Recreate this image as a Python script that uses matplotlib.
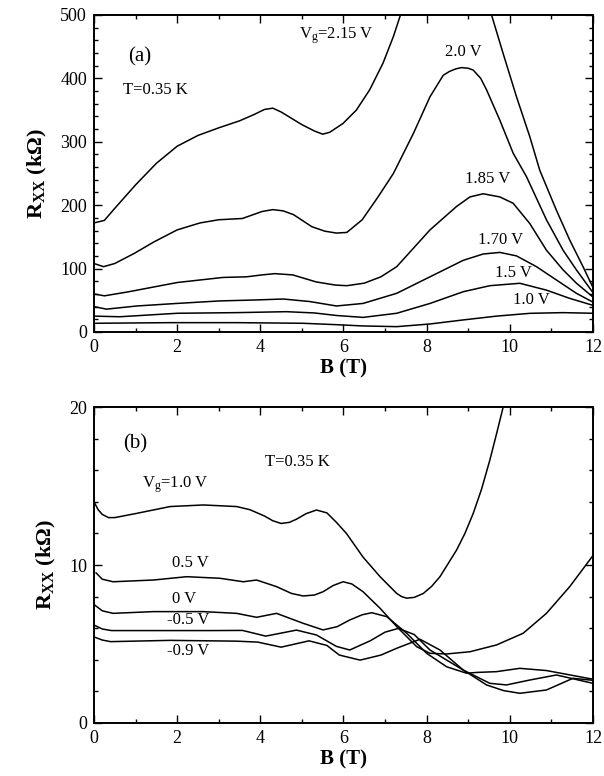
import numpy as np
import matplotlib
matplotlib.use("Agg")
import matplotlib.pyplot as plt
from matplotlib.ticker import MultipleLocator

# Times-like look
plt.rcParams['font.family'] = ['Liberation Serif', 'DejaVu Serif']
plt.rcParams['mathtext.fontset'] = 'custom'
plt.rcParams['mathtext.rm'] = 'Liberation Serif'
plt.rcParams['mathtext.it'] = 'Liberation Serif:italic'
plt.rcParams['mathtext.bf'] = 'Liberation Serif:bold'
plt.rcParams['lines.solid_joinstyle'] = 'round'

nan = np.nan

# ---- panel (a): R_xx (kOhm) vs B (T) ----
b_215 = [0.0, 0.25, 0.5, 1.0, 1.5, 2.0, 2.5, 3.0, 3.5, 3.85, 4.1, 4.3, 4.5, 4.75, 5.0,
         5.3, 5.5, 5.67, 5.99, 6.31, 6.63, 6.95, 7.2, 7.37, nan,
         9.56, 9.84, 10.16, 10.48, 10.72, 11.12, 11.44, 11.76, 12.0]
r_215 = [172, 176, 195, 232, 266, 293, 310, 322, 333, 343, 351, 353, 347, 337, 327,
         317, 312, 315, 329, 350, 382, 424, 466, 500, nan,
         500, 439, 371, 308, 255, 192, 145, 103, 70]

b_200 = [0.0, 0.23, 0.5, 0.97, 1.44, 2.0, 2.55, 3.0, 3.57, 4.04, 4.3, 4.55, 4.8, 5.24, 5.55,
         5.83, 6.08, 6.45, 6.82, 7.2, 7.68, 8.08, 8.4, 8.55, 8.7, 8.84, 9.0, 9.12, 9.3,
         9.44, 9.76, 10.08, 10.4, 10.88, 11.28, 11.6, 12.0]
r_200 = [108, 103, 108, 124, 142, 161, 172, 177, 179, 190, 193, 191, 185, 166, 159,
         156, 157, 177, 212, 250, 313, 371, 405, 411, 415, 417, 416, 413, 400,
         382, 334, 282, 245, 177, 129, 98, 62]

b_185 = [0.0, 0.25, 0.8, 1.44, 2.0, 2.55, 3.1, 3.67, 4.04, 4.35, 4.78, 5.34, 5.8, 6.08, 6.5,
         6.9, 7.28, 8.08, 8.72, 9.04, 9.36, 9.76, 10.08, 10.48, 10.88, 11.28, 11.6, 12.0]
r_185 = [60, 57, 63, 71, 78, 82, 86, 87, 90, 92, 90, 79, 74, 73, 77,
         87, 103, 161, 198, 213, 218, 213, 203, 171, 129, 98, 77, 55]

b_170 = [0.0, 0.3, 1.03, 1.99, 3.03, 3.9, 4.55, 5.19, 5.83, 6.47, 7.28, 8.08, 8.88, 9.36,
         9.76, 10.16, 10.64, 11.12, 11.6, 12.0]
r_170 = [40, 36, 41, 45, 49, 50.5, 52, 48, 41, 45, 61, 87, 113, 123,
         125.5, 120, 103, 82, 61, 47]

b_150 = [0.0, 0.62, 2.0, 3.43, 4.63, 5.3, 5.83, 6.47, 7.28, 8.08, 8.88, 9.52, 10.24, 10.88,
         11.44, 12.0]
r_150 = [25, 24, 29.5, 30.5, 32, 30, 26, 23, 29.5, 45, 63.5, 73, 76.8, 66, 53, 42]

b_100 = [0.0, 1.83, 3.43, 5.03, 5.83, 6.47, 7.28, 8.08, 8.88, 9.68, 10.48, 11.28, 12.0]
r_100 = [13.7, 14.7, 14.7, 13.7, 11.5, 9.5, 8.4, 12.6, 19, 25, 29.4, 30.5, 29.5]

curves_a = [(b_215, r_215), (b_200, r_200), (b_185, r_185),
            (b_170, r_170), (b_150, r_150), (b_100, r_100)]

# ---- panel (b) ----
bb_10 = [0.0, 0.1, 0.2, 0.35, 0.5, 1.03, 1.83, 2.63, 3.43, 3.75, 4.1, 4.3, 4.5, 4.7, 4.87,
         5.1, 5.35, 5.6, 5.83, 6.07, 6.47, 6.88, 7.28, 7.4, 7.52, 7.7, 7.92, 8.12, 8.32,
         8.72, 8.92, 9.12, 9.32, 9.52, 9.68, 9.84]
rb_10 = [14.0, 13.5, 13.2, 13.0, 13.0, 13.27, 13.7, 13.8, 13.7, 13.5, 13.1, 12.8, 12.63, 12.7,
         12.9, 13.25, 13.48, 13.3, 12.7, 12.0, 10.5, 9.26, 8.2, 8.0, 7.9, 7.95, 8.2, 8.65, 9.26,
         10.95, 12.0, 13.27, 14.8, 16.65, 18.3, 20.0]

bb_05 = [0.05, 0.2, 0.46, 1.43, 2.23, 3.03, 3.59, 3.91, 4.39, 4.75, 5.03, 5.3, 5.51, 5.75,
         5.99, 6.2, 6.47, 6.88, 7.28, 7.76, 8.08, 8.48, 9.04, 9.68, 10.32, 10.88, 11.44, 12.0]
rb_05 = [9.5, 9.1, 8.94, 9.05, 9.26, 9.16, 8.94, 9.05, 8.63, 8.2, 8.04, 8.1, 8.31, 8.7,
         8.94, 8.8, 8.31, 7.26, 6.1, 4.83, 4.41, 4.37, 4.51, 4.94, 5.68, 6.94, 8.63, 10.6]

bb_00 = [0.0, 0.2, 0.46, 1.43, 2.63, 3.43, 3.91, 4.39, 5.03, 5.51, 5.85, 6.15, 6.45, 6.68,
         7.04, 7.52, 8.0, 8.48, 8.96, 9.2, 9.68, 10.24, 10.88, 12.0]
rb_00 = [7.5, 7.1, 6.94, 7.05, 7.05, 6.94, 6.69, 6.94, 6.31, 5.89, 6.1, 6.52, 6.85, 6.98,
         6.73, 5.68, 4.41, 3.56, 3.15, 3.2, 3.25, 3.46, 3.32, 2.77]

bb_m05 = [0.0, 0.2, 0.42, 1.44, 2.83, 3.57, 4.13, 4.87, 5.35, 5.83, 6.15, 6.64, 7.0, 7.32,
          7.7, 8.08, 8.88, 9.52, 9.92, 10.48, 11.12, 12.0]
rb_m05 = [6.2, 5.95, 5.85, 5.85, 5.85, 5.86, 5.5, 5.88, 5.57, 4.85, 4.62, 5.2, 5.75, 5.99,
          5.6, 4.62, 3.35, 2.51, 2.41, 2.72, 3.04, 2.51]

bb_m09 = [0.0, 0.2, 0.4, 1.83, 3.43, 3.94, 4.5, 5.17, 5.6, 5.9, 6.4, 6.9, 7.28, 7.84, 8.32,
          8.88, 9.44, 9.85, 10.24, 10.88, 11.52, 12.0]
rb_m09 = [5.45, 5.25, 5.15, 5.23, 5.18, 5.12, 4.8, 5.2, 4.91, 4.3, 3.98, 4.3, 4.73, 5.3, 4.62,
          3.35, 2.41, 2.05, 1.88, 2.09, 2.83, 2.7]

curves_b = [(bb_10, rb_10), (bb_05, rb_05), (bb_00, rb_00),
            (bb_m05, rb_m05), (bb_m09, rb_m09)]

fig = plt.figure(figsize=(6.04, 7.76), dpi=100)
ax1 = fig.add_axes([0.1556, 0.5722, 0.8262, 0.4085])
ax2 = fig.add_axes([0.1556, 0.0683, 0.8262, 0.4072])


def style_axis(ax, ymax, ymaj, ymin):
    ax.set_xlim(0, 12)
    ax.set_ylim(0, ymax)
    ax.xaxis.set_major_locator(MultipleLocator(2))
    ax.xaxis.set_minor_locator(MultipleLocator(1))
    ax.yaxis.set_major_locator(MultipleLocator(ymaj))
    ax.yaxis.set_minor_locator(MultipleLocator(ymin))
    ax.tick_params(which='both', direction='in', top=True, right=True,
                   labelsize=13, width=1.0)
    ax.tick_params(which='major', length=6, pad=5)
    ax.tick_params(which='minor', length=3)
    for s in ax.spines.values():
        s.set_linewidth(1.4)
    ax.set_xlabel('B (T)', fontsize=15, fontweight='bold', labelpad=2)
    ax.set_ylabel(r'R$_{\mathbf{XX}}$ (kΩ)', fontsize=16, fontweight='bold', labelpad=8)


for b, r in curves_a:
    ax1.plot(b, r, color='black', lw=1.1)
style_axis(ax1, 500, 100, 20)

ax1.text(0.82, 434, '(a)', fontsize=15, va='center')
ax1.text(0.70, 382, 'T=0.35 K', fontsize=12, va='center')
ax1.text(4.92, 467, r'V$_{\rm g}$=2.15 V', fontsize=12, va='center')
ax1.text(8.44, 442, '2.0 V', fontsize=12, va='center')
ax1.text(8.92, 241, '1.85 V', fontsize=12, va='center')
ax1.text(9.23, 145, '1.70 V', fontsize=12, va='center')
ax1.text(9.64, 93, '1.5 V', fontsize=12, va='center')
ax1.text(10.07, 50, '1.0 V', fontsize=12, va='center')

for b, r in curves_b:
    ax2.plot(b, r, color='black', lw=1.1)
style_axis(ax2, 20, 10, 2)

ax2.text(0.70, 17.66, '(b)', fontsize=15, va='center')
ax2.text(4.11, 16.54, 'T=0.35 K', fontsize=12, va='center')
ax2.text(1.15, 15.06, r'V$_{\rm g}$=1.0 V', fontsize=12, va='center')
ax2.text(1.87, 10.13, '0.5 V', fontsize=12, va='center')
ax2.text(1.87, 7.85, '0 V', fontsize=12, va='center')
ax2.text(1.75, 6.52, '-0.5 V', fontsize=12, va='center')
ax2.text(1.75, 4.56, '-0.9 V', fontsize=12, va='center')

fig.savefig('out.png', dpi=100)
